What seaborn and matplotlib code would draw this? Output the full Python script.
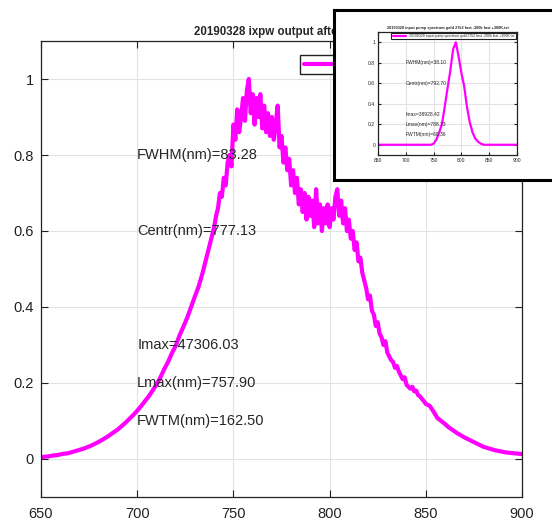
import numpy as np
import pandas as pd
import matplotlib
matplotlib.use("Agg")
import matplotlib.pyplot as plt
import seaborn as sns

# main spectrum (normalised): 2 nm steps on the wings, 1 nm in the noisy middle
wl_left = np.arange(650, 739, 2)
int_left = [
    .005, .006, .007, .009, .010, .012, .014, .015, .018, .021,
    .024, .027, .031, .035, .040, .045, .051, .057, .064, .071,
    .078, .087, .096, .106, .116, .127, .139, .152, .165, .180,
    .196, .214, .236, .255, .278, .298, .325, .348, .372, .400,
    .428, .455, .490, .530, .570,
]
wl_mid = np.arange(740, 851, 1)
int_mid = [
    .61, .64, .66, .70, .69, .74, .72, .78, .80, .77,
    .88, .84, .92, .86, .90, .95, .89, .97, 1.0, .91,
    .96, .88, .95, .90, .96, .87, .93, .86, .91, .85,
    .90, .84, .88, .93, .82, .85, .78, .82, .76, .79,
    .72, .76, .70, .74, .67, .71, .65, .70, .63, .69,
    .64, .68, .61, .71, .62, .67, .60, .66, .62, .67,
    .61, .66, .63, .69, .71, .64, .68, .62, .66, .60,
    .63, .58, .60, .55, .57, .52, .53, .49, .47, .45,
    .42, .43, .39, .38, .35, .36, .33, .32, .30, .31,
    .28, .27, .26, .255, .24, .245, .23, .22, .21, .215,
    .195, .19, .185, .19, .178, .18, .168, .165, .158, .152,
    .145,
]
wl_right = np.arange(852, 901, 2)
int_right = [
    .140, .125, .108, .100, .092, .083, .076, .069, .063, .057,
    .052, .047, .042, .037, .032, .029, .026, .023, .021, .019,
    .017, .016, .015, .014, .013,
]
main_title = "20190328 ixpw output after fiber"
main_label = "20190328 ixpw output after fiber.txt"
main_notes = ["FWHM(nm)=83.28", "Centr(nm)=777.13", "Imax=47306.03",
              "Lmax(nm)=757.90", "FWTM(nm)=162.50"]
note_y = [0.8, 0.6, 0.3, 0.2, 0.1]
note_x = 700

# inset spectrum (input pump), 650..900 nm every 5 nm
wl_inset = np.arange(650, 901, 5)
int_inset = [0] * 20 + [
    .01, .05, .12, .20, .37, .55, .72, .93, 1.0, .86,
    .70, .57, .37, .22, .12, .06, .03, .01, 0,
] + [0] * 12
inset_title = "20190328 input pump spectrum gold 27k2 fast -300k fast +300K.txt"
inset_notes = ["FWHM(nm)=38.10", "Centr(nm)=792.70", "Imax=38928.42",
               "Lmax(nm)=788.73", "FWTM(nm)=60.36"]

df_main = pd.DataFrame({"wl": np.concatenate([wl_left, wl_mid, wl_right]),
                        "I": int_left + int_mid + int_right})
df_inset = pd.DataFrame({"wl": wl_inset, "I": int_inset})

sns.set_style("whitegrid")
plt.rcParams["font.family"] = ["Liberation Sans", "DejaVu Sans"]

W, H = 552, 524
fig = plt.figure(figsize=(W / 100, H / 100), dpi=100)

def style_axes(ax, fs, pad, tl):
    ax.grid(True, color="#e3e3e3", lw=0.8)
    for s in ax.spines.values():
        s.set_visible(True)
        s.set_color("#222222")
        s.set_linewidth(0.9)
    ax.tick_params(direction="in", length=tl, width=0.8, labelsize=fs,
                   top=True, right=True, bottom=True, left=True, pad=pad,
                   colors="#222222")
    ax.set_xlabel("")
    ax.set_ylabel("")

ax = fig.add_axes([41 / W, 1 - 497 / H, 481 / W, 456 / H])
sns.lineplot(data=df_main, x="wl", y="I", ax=ax, color="#ff00ff", lw=3.0,
             label=main_label)
ax.set_xlim(650, 900)
ax.set_ylim(-0.1, 1.1)
ax.set_xticks([650, 700, 750, 800, 850, 900])
ax.set_yticks([0, 0.2, 0.4, 0.6, 0.8, 1])
ax.set_yticklabels(["0", "0.2", "0.4", "0.6", "0.8", "1"])
style_axes(ax, 10.5, 5, 5)
ax.tick_params(axis="x", pad=7)
ax.set_title(main_title, fontsize=8.3, fontweight="bold", pad=4)
for t, y in zip(main_notes, note_y):
    ax.text(note_x, y, t, fontsize=10.5, va="center", ha="left")
leg = ax.legend(loc="upper left", bbox_to_anchor=(300 / W, 1 - 55 / H),
                bbox_transform=fig.transFigure, borderaxespad=0,
                fontsize=8, fancybox=False, framealpha=1, handlelength=3)
leg.get_frame().set_edgecolor("#222222")
leg.get_frame().set_linewidth(1.0)

# pasted inset panel
panel = fig.add_axes([334 / W, 1 - 180 / H, 230 / W, 170 / H])
panel.set_xticks([])
panel.set_yticks([])
panel.grid(False)
panel.set_facecolor("white")
for s in panel.spines.values():
    s.set_visible(True)
    s.set_color("black")
    s.set_linewidth(2.2)

ins = fig.add_axes([378 / W, 1 - 155 / H, 139 / W, 123 / H])
sns.lineplot(data=df_inset, x="wl", y="I", ax=ins, color="#ff00ff", lw=1.6,
             label=inset_title)
ins.set_xlim(650, 900)
ins.set_ylim(-0.1, 1.1)
ins.set_xticks([650, 700, 750, 800, 850, 900])
ins.set_yticks([0, 0.2, 0.4, 0.6, 0.8, 1])
ins.set_yticklabels(["0", "0.2", "0.4", "0.6", "0.8", "1"])
style_axes(ins, 3.6, 2, 2)
ins.set_title(inset_title, fontsize=2.8, fontweight="bold", pad=2)
for t, y in zip(inset_notes, note_y):
    ins.text(note_x, y, t, fontsize=3.6, va="center", ha="left")
ileg = ins.legend(loc="upper right", fontsize=2.5, fancybox=False,
                  framealpha=1, handlelength=4, borderaxespad=0.4,
                  borderpad=0.3)
ileg.get_frame().set_edgecolor("#222222")
ileg.get_frame().set_linewidth(0.8)

fig.savefig("out.png", dpi=100)
